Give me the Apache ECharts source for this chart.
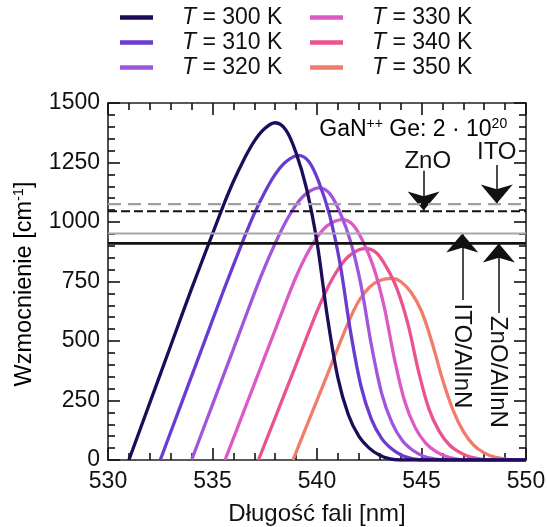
<!DOCTYPE html>
<html>
<head>
<meta charset="utf-8">
<script src="https://cdn.jsdelivr.net/npm/echarts@6/dist/echarts.min.js"></script>
<style>
  html, body { margin: 0; padding: 0; background: #fff; }
  #chart { width: 547px; height: 527px; }
</style>
</head>
<body>
<div id="chart"></div>
<script>
  // wavelength [nm] / gain [cm^-1], one pair per temperature
  var names = ['T = 300 K', 'T = 310 K', 'T = 320 K', 'T = 330 K', 'T = 340 K', 'T = 350 K']
  var colors = ['#1e0b5a', '#6a3bd0', '#a055dd', '#dc5ac5', '#ea5290', '#ef7d6a']

  var x300 = [531.0, 532, 533, 534, 535, 535.5, 536, 536.5, 537, 537.5, 538, 538.5, 539, 539.5, 540, 540.5, 541, 541.5, 542, 542.5, 543, 543.5, 544, 550]
  var g300 = [0, 240, 480, 720, 950, 1065, 1170, 1262, 1340, 1393, 1417, 1388, 1290, 1140, 915, 600, 345, 190, 100, 50, 20, 5, 0, 0]

  var x310 = [532.5, 533.5, 534.5, 535.5, 536.5, 537, 537.5, 538, 538.5, 539.1, 539.6, 540.1, 540.6, 541.1, 541.6, 542.1, 542.6, 543.1, 543.6, 544.1, 544.6, 545.1, 550]
  var g310 = [0, 235, 470, 705, 930, 1035, 1125, 1200, 1252, 1280, 1255, 1165, 1030, 826, 542, 312, 172, 90, 45, 18, 5, 0, 0]

  var x320 = [534.0, 535, 536, 537, 537.5, 538, 538.5, 539, 539.5, 540.1, 540.6, 541.1, 541.6, 542.1, 542.6, 543.1, 543.6, 544.1, 544.6, 545.1, 545.6, 546.1, 550]
  var g320 = [0, 233, 466, 700, 810, 910, 1000, 1072, 1120, 1143, 1120, 1040, 920, 737, 484, 278, 154, 80, 40, 16, 5, 0, 0]

  var x330 = [535.6, 536.5, 537.5, 538.5, 539, 539.5, 540, 540.5, 541.2, 541.7, 542.2, 542.7, 543.2, 543.7, 544.2, 544.7, 545.2, 545.7, 546.2, 546.7, 547.2, 550]
  var g330 = [0, 205, 433, 661, 770, 862, 935, 985, 1010, 990, 918, 812, 650, 427, 246, 136, 71, 35, 14, 4, 0, 0]

  var x340 = [537.2, 538, 539, 540, 540.5, 541, 541.5, 542, 542.35, 542.85, 543.35, 543.85, 544.35, 544.85, 545.35, 545.85, 546.35, 546.85, 547.35, 547.85, 548.35, 550]
  var g340 = [0, 178, 401, 624, 722, 800, 855, 883, 888, 870, 806, 714, 572, 376, 216, 120, 62, 31, 12, 4, 0, 0]

  var x350 = [538.85, 539.5, 540.5, 541.5, 542, 542.5, 543, 543.6, 544, 544.5, 545, 545.5, 546, 546.5, 547, 547.5, 548, 548.5, 549, 549.5, 550]
  var g350 = [0, 142, 360, 578, 668, 725, 754, 763, 750, 705, 625, 495, 340, 212, 120, 62, 30, 12, 4, 0, 0]

  // threshold levels (ITO, ZnO, ITO/AlInN, ZnO/AlInN)
  var levels = [1075, 1045, 952, 910]
  // arrows: x, from, to
  var arrowX = [545.1, 548.6, 546.95, 548.7]
  var arrowFrom = [1215, 1240, 672, 618]
  var arrowTo = [1048, 1078, 952, 910]

  var xs = [x300, x310, x320, x330, x340, x350]
  var gs = [g300, g310, g320, g330, g340, g350]

  var font = 'Liberation Sans, Arial, sans-serif'
  var ink = '#111'

  function zip(a, b) {
    var out = []
    for (var i = 0; i < a.length; i++) out.push([a[i], b[i]])
    return out
  }

  var series = []
  for (var i = 0; i < names.length; i++) {
    series.push({
      name: names[i],
      type: 'line',
      data: zip(xs[i], gs[i]),
      smooth: 0.35,
      showSymbol: false,
      z: 10 - i,
      lineStyle: { color: colors[i], width: 3.3 },
      itemStyle: { color: colors[i] }
    })
  }

  var levelStyles = [
    { color: '#a0a0a0', width: 2.4, type: [13, 7] },
    { color: '#111', width: 2, type: [9, 4] },
    { color: '#a8a8a8', width: 2, type: 'solid' },
    { color: '#111', width: 2.6, type: 'solid' }
  ]
  for (var j = 0; j < levels.length; j++) {
    series.push({
      type: 'line',
      data: [[530, levels[j]], [550, levels[j]]],
      showSymbol: false,
      silent: true,
      z: 20,
      lineStyle: levelStyles[j]
    })
  }

  var arrowData = []
  for (var k = 0; k < arrowX.length; k++) {
    arrowData.push([
      { coord: [arrowX[k], arrowFrom[k]], symbol: 'none' },
      { coord: [arrowX[k], arrowTo[k]], symbol: 'arrow', symbolSize: [24, 19] }
    ])
  }
  series.push({
    type: 'line',
    data: [],
    z: 21,
    markLine: {
      silent: true,
      animation: false,
      label: { show: false },
      lineStyle: { color: '#111', width: 1.5, type: 'solid' },
      itemStyle: { color: '#111' },
      data: arrowData
    }
  })

  function plain(v) { return String(v) }

  // ticks point into the plot: drawn "outside" with a negative length
  function frame(show, margin) {
    return {
      type: 'value',
      axisLine: { show: true, onZero: false, lineStyle: { color: '#222', width: 1.6 } },
      axisTick: { show: true, inside: false, length: -12, lineStyle: { color: '#111', width: 1.6 } },
      minorTick: { show: true, splitNumber: 5, length: -7, lineStyle: { color: '#111', width: 1.6 } },
      splitLine: { show: false },
      axisLabel: { show: show, fontSize: 23, color: ink, fontFamily: font, margin: margin, formatter: plain }
    }
  }

  var xBottom = Object.assign(frame(true, 10), {
    min: 530, max: 550, interval: 5, position: 'bottom',
    name: 'Długość fali [nm]', nameLocation: 'middle', nameGap: 42,
    nameTextStyle: { fontSize: 24, color: ink, fontFamily: font }
  })
  var xTop = Object.assign(frame(false, 8), { min: 530, max: 550, interval: 5, position: 'top' })
  var yLeft = Object.assign(frame(true, 8), { min: 0, max: 1500, interval: 250, position: 'left' })
  var yRight = Object.assign(frame(false, 8), { min: 0, max: 1500, interval: 250, position: 'right' })

  function legendBlock(data, left) {
    return {
      data: data,
      orient: 'vertical',
      left: left,
      top: 6,
      padding: 0,
      itemGap: 2,
      itemWidth: 33,
      itemHeight: 4.5,
      icon: 'rect',
      formatter: function (n) { return '{i|T}' + n.slice(1) },
      textStyle: {
        fontSize: 23, lineHeight: 23, color: ink, fontFamily: font, padding: [0, 0, 0, 24],
        rich: { i: { fontStyle: 'italic', fontSize: 23, lineHeight: 23, fontFamily: font, color: ink } }
      }
    }
  }

  var chart = echarts.init(document.getElementById('chart'))
  chart.setOption({
    animation: false,
    backgroundColor: '#fff',
    grid: { left: 108, right: 21, top: 103, bottom: 67, containLabel: false, outerBoundsMode: 'none' },
    legend: [legendBlock(names.slice(0, 3), 120), legendBlock(names.slice(3), 310)],
    xAxis: [xBottom, xTop],
    yAxis: [yLeft, yRight],
    series: series
  })

  function px(x, y) {
    return chart.convertToPixel({ xAxisIndex: 0, yAxisIndex: 0 }, [x, y])
  }
  var supRich = {
    a: { fontSize: 23, lineHeight: 26, color: ink, fontFamily: font },
    s: { fontSize: 14, lineHeight: 13, verticalAlign: 'top', color: ink, fontFamily: font }
  }
  var nameRich = {
    a: { fontSize: 23.5, lineHeight: 27, color: ink, fontFamily: font },
    s: { fontSize: 14.5, lineHeight: 13, verticalAlign: 'top', color: ink, fontFamily: font }
  }
  var pGaN = px(549.1, 1387)
  var pZnO = px(545.3, 1255)
  var pITO = px(548.6, 1292)
  var pIA = px(546.94, 437)
  var pZA = px(548.66, 370)
  chart.setOption({
    graphic: [
      { type: 'text', x: 25, y: 284, z: 30, rotation: Math.PI / 2,
        style: { text: '{a|Wzmocnienie [cm}{s|-1}{a|]}', rich: nameRich, align: 'center', verticalAlign: 'middle' } },
      { type: 'text', x: pGaN[0], y: pGaN[1], z: 30,
        style: { text: '{a|GaN}{s|++}{a| Ge: 2 · 10}{s|20}', rich: supRich, align: 'right', verticalAlign: 'middle' } },
      { type: 'text', x: pZnO[0], y: pZnO[1], z: 30,
        style: { text: 'ZnO', fontSize: 24, fill: ink, fontFamily: font, align: 'center', verticalAlign: 'middle' } },
      { type: 'text', x: pITO[0], y: pITO[1], z: 30,
        style: { text: 'ITO', fontSize: 24, fill: ink, fontFamily: font, align: 'center', verticalAlign: 'middle' } },
      { type: 'text', x: pIA[0], y: pIA[1], z: 30, rotation: -Math.PI / 2,
        style: { text: 'ITO/AlInN', fontSize: 24, fill: ink, fontFamily: font, align: 'center', verticalAlign: 'middle' } },
      { type: 'text', x: pZA[0], y: pZA[1], z: 30, rotation: -Math.PI / 2,
        style: { text: 'ZnO/AlInN', fontSize: 24, fill: ink, fontFamily: font, align: 'center', verticalAlign: 'middle' } }
    ]
  })
</script>
</body>
</html>
